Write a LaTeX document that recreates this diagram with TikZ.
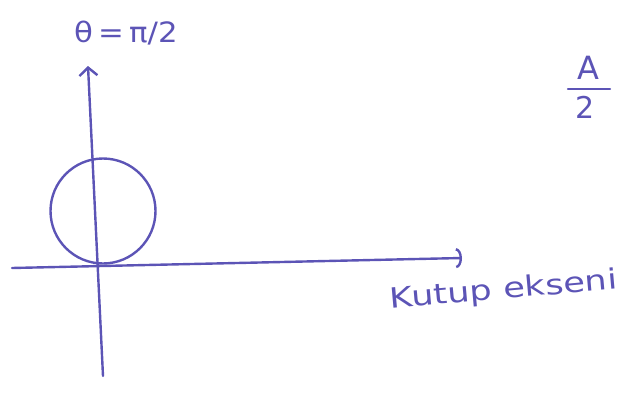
\documentclass[tikz,border=0pt]{standalone}
\usepackage{fontspec}
\setmainfont{DejaVu Sans}
\usetikzlibrary{arrows.meta}
\definecolor{pen}{RGB}{92,84,182}
\begin{document}
\begin{tikzpicture}[x=1pt,y=-1pt,
  ink/.style={draw=pen,line width=2.4pt,line cap=round},
  lbl/.style={text=pen,inner sep=0pt,font=\fontsize{28}{30}\selectfont}]
\useasboundingbox (0,0) rectangle (622,394);
\coordinate (vb) at (103,376);
\coordinate (vt) at (88,66);
\coordinate (hl) at (12,268);
\coordinate (hr) at (462,258);
\draw[ink,-{Straight Barb[length=8pt,width=18pt,line width=2.4pt]}] (vb) -- (vt);
\draw[ink,-{Arc Barb[length=6pt,width=20pt,line width=2.4pt]}] (hl) -- (hr);
\node[ink,circle,minimum width=105pt,inner sep=0pt] (c) at (103,211) {};
\node[lbl,anchor=west,xscale=1.1] (theta) at (74,33) {θ\,=\,π/2};
\node[lbl,anchor=west,rotate=5,xscale=1.26] (kutup) at (390,301) {Kutup ekseni};
\node[lbl,anchor=center,font=\fontsize{32}{34}\selectfont] (a) at (588,68) {A};
\draw[ink] (568,89) -- (610,89);
\node[lbl,anchor=center,font=\fontsize{30}{32}\selectfont] (two) at (585,107) {2};
\end{tikzpicture}
\end{document}
